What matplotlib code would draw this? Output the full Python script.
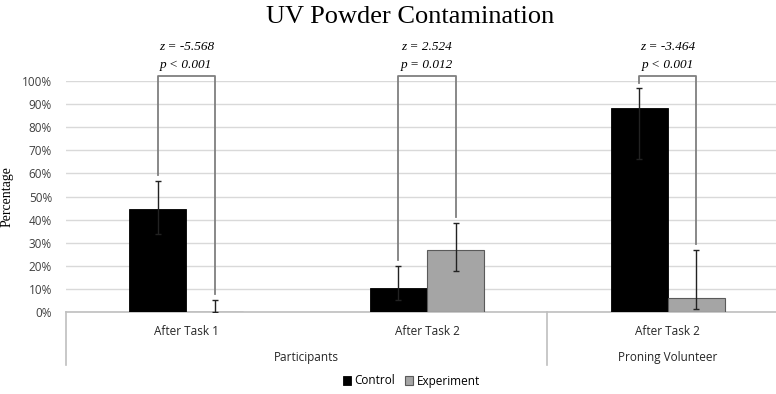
import numpy as np
import matplotlib
matplotlib.use('Agg')
import matplotlib.pyplot as plt
from matplotlib.ticker import PercentFormatter

# data (percent)
groups = ['Participants', 'Proning Volunteer']
tasks = ['After Task 1', 'After Task 2', 'After Task 2']
control = [44.7, 10.3, 88.2]
experiment = [0.0, 26.9, 6.0]
control_hi = [56.6, 20.0, 96.7]
control_lo = [33.6, 5.3, 66.0]
experiment_hi = [5.3, 38.5, 26.9]
experiment_lo = [0.0, 17.7, 1.3]
z_vals = ['-5.568', '2.524', '-3.464']
p_vals = ['< 0.001', '= 0.012', '< 0.001']

serif = 'Liberation Serif'
sans = 'Open Sans'

fig = plt.figure(figsize=(7.76, 3.94), dpi=100)
ax = fig.add_axes([66 / 776, 0.2073, 722 / 776, 0.5879])

x = np.arange(len(tasks))
w = 0.237
ctrl_err = [np.array(control) - np.array(control_lo), np.array(control_hi) - np.array(control)]
exp_err = [np.array(experiment) - np.array(experiment_lo), np.array(experiment_hi) - np.array(experiment)]

ax.bar(x - w / 2, control, w, color='black', edgecolor='black', linewidth=0.6, label='Control', zorder=3)
ax.bar(x + w / 2, experiment, w, color='#a5a5a5', edgecolor='#5a5a5a', linewidth=0.8, label='Experiment', zorder=3)
ax.errorbar(x - w / 2, control, yerr=ctrl_err, fmt='none', ecolor='#222222', elinewidth=1, capsize=2.5, capthick=1, zorder=4)
ax.errorbar(x + w / 2, experiment, yerr=exp_err, fmt='none', ecolor='#222222', elinewidth=1, capsize=2.5, capthick=1, zorder=4)

# significance brackets
top = 102
for i in range(len(tasks)):
    xl, xr = x[i] - w / 2, x[i] + w / 2
    ax.plot([xl, xl, xr, xr], [control_hi[i] + 2.5, top, top, experiment_hi[i] + 2.5],
            color='#7f7f7f', lw=1.3, clip_on=False, zorder=5)
    ax.text(x[i], 114.5, 'z = ' + z_vals[i], ha='center', va='center', fontsize=9.5,
            family=serif, style='italic', clip_on=False)
    ax.text(x[i], 106.8, 'p ' + p_vals[i], ha='center', va='center', fontsize=9.5,
            family=serif, style='italic', clip_on=False)

ax.set_xlim(-0.5, 2.5)
ax.set_ylim(0, 100)
ax.set_yticks(np.arange(0, 101, 10))
ax.yaxis.set_major_formatter(PercentFormatter(decimals=0))
ax.grid(axis='y', color='#d9d9d9', lw=1, zorder=0)
ax.set_axisbelow(True)
for s in ['top', 'right', 'left']:
    ax.spines[s].set_visible(False)
ax.spines['bottom'].set_color('#bfbfbf')
ax.spines['bottom'].set_linewidth(1.2)
ax.tick_params(axis='y', length=0, pad=10, labelsize=8.5, labelcolor='#404040')
for lab in ax.get_yticklabels():
    lab.set_family(sans)
ax.set_xticks([])
ax.set_ylabel('Percentage', family=serif, fontsize=10, labelpad=6)

# multi-level category axis
trans = ax.get_xaxis_transform()
for xs in [-0.5, 1.5, 2.5]:
    ax.plot([xs, xs], [0, -0.228], color='#bfbfbf', lw=1.2, transform=trans, clip_on=False)
for i, t in enumerate(tasks):
    ax.text(x[i], -0.081, t, transform=trans, ha='center', va='center',
            fontsize=8.5, family=sans, color='#262626')
ax.text(0.5, -0.193, groups[0], transform=trans, ha='center', va='center',
        fontsize=8.5, family=sans, color='#262626')
ax.text(2, -0.193, groups[1], transform=trans, ha='center', va='center',
        fontsize=8.5, family=sans, color='#262626')

fig.text(0.528, (394 - 17) / 394, 'UV Powder Contamination', ha='center', va='center',
         fontsize=19, family=serif)

fig.legend(loc='center', bbox_to_anchor=(0.53, (394 - 381) / 394), ncol=2, frameon=False,
           prop={'family': sans, 'size': 8.5}, handlelength=0.7, handleheight=0.7,
           handletextpad=0.3, columnspacing=0.8)

fig.savefig('out.png', dpi=100)
